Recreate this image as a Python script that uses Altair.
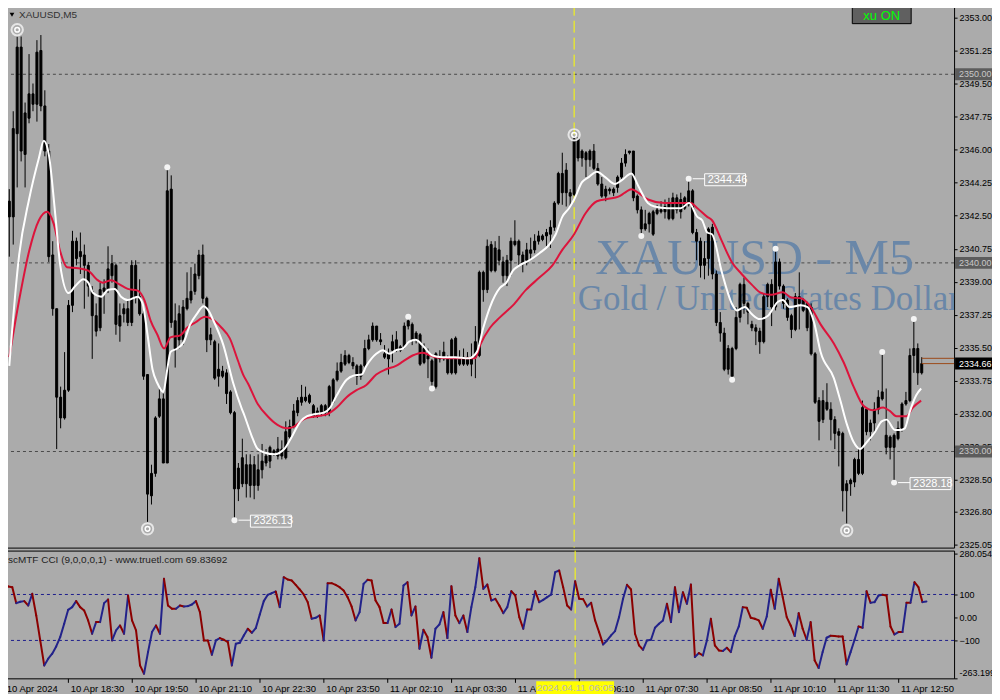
import altair as alt
import pandas as pd

# ---------------- data ----------------
opens = [2343.27,2342.44,2346.85,2351.44,2345.75,2347.67,2348.96,2348.41,2351.26,2348.32,
2345.93,2340.42,2337.57,2332.88,2331.78,2333.25,2337.75,2341.15,2340.33,2340.42,
2339.87,2338.49,2337.20,2336.56,2338.49,2338.58,2339.32,2339.87,2336.65,2337.30,
2337.57,2336.84,2339.87,2338.21,2337.30,2334.08,2327.65,2328.84,2331.87,2332.79,
2329.39,2343.91,2336.93,2335.92,2335.92,2337.57,2338.03,2338.49,2339.32,2340.42,
2338.12,2335.92,2335.82,2333.99,2334.26,2334.17,2333.16,2332.06,2328.02,2328.29,
2329.30,2328.20,2329.30,2328.20,2329.03,2329.39,2329.49,2330.04,2329.76,2330.13,
2329.67,2330.77,2331.32,2332.06,2332.61,2332.88,2332.61,2332.43,2331.87,2332.06,
2332.43,2332.06,2332.61,2333.80,2334.26,2334.63,2335.09,2334.72,2334.54,2333.99,
2334.54,2335.46,2335.92,2336.65,2335.92,2335.18,2334.91,2335.37,2335.92,2335.37,
2335.55,2336.65,2336.74,2335.92,2336.19,2334.72,2335.09,2334.81,2333.44,2335.00,
2334.91,2334.91,2334.17,2336.01,2334.63,2335.00,2334.63,2334.63,2335.00,2335.09,
2339.50,2338.58,2340.97,2339.59,2340.69,2340.05,2339.32,2340.14,2341.15,2341.15,
2340.42,2340.14,2340.51,2340.69,2341.15,2341.24,2341.43,2341.52,2341.89,2343.17,
2344.74,2343.72,2343.72,2343.63,2346.57,2345.56,2345.84,2345.47,2345.93,2345.01,
2344.18,2343.54,2343.91,2343.72,2344.00,2344.55,2345.29,2345.84,2345.93,2343.54,
2342.81,2341.80,2342.07,2342.71,2342.62,2342.71,2342.99,2342.35,2343.45,2342.81,
2343.36,2342.90,2343.08,2343.82,2341.61,2341.15,2339.87,2340.23,2341.89,2339.41,
2336.84,2336.28,2334.36,2335.46,2335.46,2337.11,2338.86,2337.85,2336.74,2336.56,
2336.38,2335.82,2338.21,2338.86,2337.66,2340.05,2338.77,2338.03,2337.20,2336.47,
2338.21,2338.03,2337.85,2337.66,2335.18,2332.70,2331.69,2332.61,2332.24,2331.69,
2331.05,2330.96,2327.92,2328.29,2328.38,2328.84,2328.84,2332.24,2331.05,2331.51,
2332.24,2332.79,2330.86,2330.22,2330.22,2330.68,2331.23,2332.52,2332.70,2335.09,
2335.46,2334.17]
highs = [2343.91,2348.04,2352.00,2352.00,2348.50,2351.07,2349.51,2351.81,2352.08,2349.15,
2346.30,2341.15,2337.57,2333.44,2335.27,2338.03,2341.70,2341.34,2341.61,2340.97,
2340.05,2338.77,2337.85,2338.95,2339.13,2340.88,2340.42,2339.96,2337.85,2337.85,
2338.03,2340.14,2340.14,2339.13,2337.48,2334.08,2329.30,2331.87,2333.34,2333.07,
2344.92,2344.64,2337.85,2337.75,2338.03,2339.50,2339.77,2339.96,2340.69,2340.97,
2338.21,2336.56,2335.92,2335.73,2334.54,2334.36,2333.25,2332.15,2329.39,2330.68,
2329.85,2329.85,2329.76,2329.85,2330.40,2330.13,2330.31,2330.13,2330.77,2330.59,
2331.60,2331.69,2332.52,2332.88,2333.53,2333.44,2333.07,2332.52,2332.33,2332.52,
2332.52,2333.53,2333.89,2334.72,2335.18,2335.37,2335.18,2335.00,2334.63,2334.63,
2335.92,2336.19,2336.84,2336.65,2336.28,2335.64,2335.46,2336.19,2336.38,2335.64,
2336.84,2337.20,2336.84,2336.38,2336.28,2335.73,2335.46,2334.91,2335.27,2335.37,
2335.82,2335.09,2336.01,2336.10,2335.37,2335.46,2335.27,2335.73,2336.65,2339.59,
2339.59,2341.24,2341.15,2341.15,2341.43,2340.33,2340.42,2341.34,2342.26,2341.24,
2340.60,2341.06,2341.34,2341.52,2341.70,2341.52,2341.80,2342.26,2343.27,2344.83,
2345.84,2345.29,2343.91,2346.70,2346.67,2346.02,2345.93,2346.02,2346.30,2345.29,
2344.55,2344.09,2344.00,2344.00,2344.64,2345.56,2346.02,2345.93,2345.93,2343.63,
2342.99,2342.81,2342.71,2342.81,2343.08,2343.27,2343.36,2343.45,2343.72,2343.63,
2343.72,2343.54,2344.46,2343.91,2341.80,2341.34,2341.15,2341.89,2342.07,2339.59,
2337.39,2336.56,2335.64,2335.55,2337.66,2338.95,2339.22,2337.94,2336.93,2336.74,
2336.56,2338.40,2338.95,2339.13,2340.69,2340.23,2338.86,2338.12,2337.30,2338.40,
2339.50,2338.12,2337.94,2337.85,2335.27,2332.88,2333.25,2333.62,2332.61,2331.87,
2331.23,2331.05,2328.48,2328.57,2329.67,2330.22,2332.70,2332.33,2331.69,2332.61,
2333.25,2335.27,2333.34,2330.86,2330.96,2331.60,2332.61,2333.16,2335.46,2337.03,
2335.73,2335.00]
lows = [2340.33,2340.97,2344.00,2345.38,2344.00,2347.40,2348.04,2347.49,2348.04,2345.65,
2340.05,2337.20,2330.13,2331.23,2331.69,2333.16,2337.39,2339.87,2339.41,2337.57,
2338.21,2334.91,2336.10,2336.38,2337.30,2338.40,2338.95,2336.19,2335.82,2336.84,
2336.65,2336.65,2337.85,2337.20,2333.80,2326.27,2327.19,2328.66,2331.78,2329.39,
2329.39,2336.56,2334.45,2335.46,2335.64,2337.48,2337.85,2338.31,2339.13,2337.85,
2335.27,2335.64,2333.80,2333.44,2333.89,2332.52,2331.97,2326.30,2327.37,2328.11,
2327.56,2327.56,2327.47,2327.92,2328.57,2329.21,2329.12,2329.76,2329.58,2329.58,
2329.58,2330.68,2331.23,2331.87,2332.43,2332.61,2332.52,2331.78,2331.78,2331.87,
2331.87,2331.87,2332.52,2333.71,2334.17,2334.54,2334.63,2334.36,2333.53,2333.80,
2334.45,2335.37,2335.82,2335.82,2335.64,2334.91,2334.08,2334.72,2335.27,2335.27,
2335.46,2336.47,2335.64,2335.73,2334.54,2334.63,2333.89,2333.44,2333.34,2334.72,
2334.81,2334.08,2334.08,2334.08,2334.54,2334.54,2334.54,2333.99,2333.89,2335.00,
2337.94,2338.40,2339.50,2339.50,2339.87,2338.95,2338.77,2339.32,2340.88,2339.87,
2339.50,2339.87,2340.14,2340.51,2340.97,2341.15,2340.88,2340.79,2341.70,2343.08,
2343.08,2342.99,2342.99,2343.54,2345.38,2345.10,2344.55,2345.10,2344.92,2344.09,
2343.45,2343.27,2343.63,2343.54,2343.72,2344.46,2345.10,2345.75,2343.27,2342.62,
2341.52,2341.70,2341.61,2341.43,2342.53,2342.62,2342.35,2342.26,2342.26,2342.62,
2342.35,2342.81,2342.99,2341.52,2340.14,2339.22,2339.13,2339.32,2339.13,2336.65,
2335.82,2334.26,2334.08,2333.89,2335.37,2336.84,2337.30,2336.74,2336.38,2335.64,
2335.18,2335.73,2337.66,2336.65,2337.48,2338.58,2337.57,2336.93,2336.01,2336.38,
2336.47,2337.39,2336.38,2335.09,2332.52,2330.59,2331.51,2332.15,2330.59,2330.13,
2329.21,2326.82,2326.18,2327.65,2328.11,2328.75,2328.75,2330.86,2330.59,2330.96,
2331.97,2332.70,2329.85,2329.58,2328.30,2330.59,2331.05,2332.43,2332.61,2334.17,
2333.53,2334.08]
closes = [2342.44,2347.12,2351.44,2345.93,2347.95,2348.96,2348.41,2351.17,2348.32,2345.93,
2340.33,2337.57,2332.88,2331.78,2333.25,2337.75,2341.15,2340.23,2340.60,2339.87,
2338.77,2337.20,2336.38,2338.58,2338.67,2339.68,2339.96,2336.74,2337.20,2337.57,
2336.84,2339.87,2338.21,2337.30,2333.99,2327.74,2328.84,2331.78,2332.79,2329.39,
2343.82,2336.84,2335.46,2337.30,2337.66,2338.12,2338.49,2339.41,2340.42,2338.12,
2335.92,2336.19,2333.89,2334.36,2333.99,2333.07,2332.06,2328.02,2329.12,2329.67,
2328.29,2329.30,2328.20,2329.03,2329.49,2329.76,2330.22,2329.85,2330.13,2329.76,
2331.05,2331.32,2332.15,2332.70,2332.88,2332.70,2332.98,2331.87,2332.15,2332.43,
2332.06,2333.44,2333.80,2334.26,2334.72,2335.09,2334.72,2334.54,2333.99,2334.54,
2335.46,2335.92,2336.65,2335.92,2335.82,2335.00,2335.18,2335.82,2335.37,2335.55,
2336.65,2336.93,2335.92,2336.28,2334.63,2335.46,2334.91,2333.71,2335.18,2334.91,
2335.27,2334.17,2335.92,2334.17,2335.00,2334.63,2335.00,2335.00,2335.82,2339.50,
2338.58,2340.88,2339.59,2340.79,2340.14,2339.32,2340.14,2341.15,2340.97,2340.42,
2339.96,2340.69,2340.69,2341.15,2341.43,2341.43,2341.61,2341.89,2343.17,2344.74,
2343.72,2344.92,2343.54,2346.57,2345.56,2345.93,2345.47,2345.93,2345.01,2344.18,
2343.54,2343.91,2343.82,2343.91,2344.55,2345.29,2345.75,2345.93,2343.45,2342.81,
2341.80,2342.07,2342.62,2341.52,2342.81,2342.81,2342.71,2343.17,2342.35,2343.45,
2342.71,2343.45,2343.82,2341.61,2341.15,2339.87,2340.23,2341.80,2339.41,2336.84,
2336.28,2334.36,2335.46,2333.99,2337.11,2338.86,2337.85,2337.39,2336.56,2336.38,
2335.82,2338.21,2338.86,2337.66,2340.05,2338.77,2337.85,2337.11,2336.47,2338.21,
2337.85,2337.48,2336.56,2335.18,2332.61,2331.60,2332.70,2332.24,2331.69,2330.96,
2330.86,2327.92,2328.29,2328.48,2329.58,2329.58,2332.33,2331.05,2331.51,2332.24,
2332.88,2333.16,2330.22,2330.77,2330.86,2331.23,2332.52,2332.70,2335.09,2335.46,
2334.17,2334.66]

fast_ma_bar = [0.0,2.5,5.0,7.5,8.75,10.0,11.7,12.9,15.0,16.7,18.75,20.0,21.25,23.3,25.0,26.7,28.3,30.0,
32.5,33.75,35.0,36.25,37.5,39.0,40.0,40.8,42.5,44.2,45.8,47.5,49.2,50.4,51.7,54.2,56.7,58.75,
59.6,61.3,62.9,64.6,67.1,69.6,71.25,73.75,75.4,77.1,79.6,81.25,82.9,85.4,87.1,89.2,90.4,92.9,
94.6,96.25,97.9,99.6,101.25,102.9,104.6,107.1,109.6,112.9,116.25,118.35,120.0,121.7,124.2,
125.85,127.5,129.2,131.7,134.2,136.7,138.35,140.0,141.7,143.0,145.0,146.7,148.75,150.85,
153.35,155.0,157.5,159.2,161.7,163.35,166.7,170.0,172.1,174.2,175.4,176.7,177.9,180.4,182.9,
184.2,186.25,187.9,190.0,192.1,194.6,195.85,197.5,200.4,202.1,203.75,205.4,208.75,210.4,
212.1,213.75,215.4,217.1,219.2,220.85,222.1,224.2,225.4,226.7,227.9,229.6,230.85]
fast_ma_val = [2334.54,2340.42,2343.36,2345.56,2346.48,2345.75,2342.44,2339.87,2338.40,2338.77,
2339.13,2338.95,2338.40,2338.21,2338.58,2338.62,2338.21,2338.03,2338.21,2337.85,2336.19,
2334.36,2333.62,2333.16,2334.36,2335.27,2335.46,2335.82,2336.74,2337.30,2337.70,2337.48,
2336.93,2335.64,2333.62,2332.33,2331.87,2330.86,2330.13,2329.95,2329.85,2330.13,2330.68,
2331.60,2331.87,2331.97,2332.06,2332.33,2332.98,2333.80,2334.02,2334.08,2334.54,2335.18,
2335.37,2335.18,2335.37,2335.46,2335.82,2335.92,2335.64,2335.09,2335.00,2335.00,2334.94,
2335.27,2336.56,2337.66,2338.67,2338.95,2339.59,2339.87,2340.14,2340.51,2340.97,2341.52,
2342.44,2342.90,2343.36,2344.28,2344.55,2344.83,2344.55,2344.18,2344.37,2344.74,2344.09,
2343.17,2342.99,2342.90,2342.90,2343.17,2342.44,2342.26,2341.61,2341.52,2339.50,2337.85,
2337.48,2337.66,2337.30,2337.02,2337.20,2337.94,2338.03,2337.66,2337.75,2337.66,2336.84,
2335.27,2333.89,2332.70,2331.41,2330.50,2330.13,2330.50,2331.05,2331.60,2331.69,2331.14,
2331.14,2331.23,2332.06,2332.98,2333.34]

slow_ma_bar = [0.0,2.5,5.0,7.5,9.6,11.25,12.9,14.6,17.5,20.0,22.1,23.75,25.8,27.9,30.0,32.5,34.2,
35.8,37.5,39.2,40.8,43.3,45.0,47.1,49.6,51.7,53.75,55.8,57.9,59.2,60.4,62.9,65.4,67.9,70.4,
72.1,73.75,75.4,77.9,80.4,82.9,85.4,87.9,90.4,92.9,95.4,97.9,99.6,102.1,104.6,106.25,107.9,
111.25,117.9,119.2,121.7,124.2,127.5,130.85,134.2,137.5,140.0,143.0,145.85,148.75,151.7,
154.2,155.85,157.5,159.2,161.7,165.85,170.0,172.5,174.2,176.7,177.9,180.4,182.9,185.4,
187.9,190.4,192.9,195.85,197.9,200.4,202.9,205.4,208.75,211.25,213.75,216.25,218.75,
221.25,222.9,224.6,227.1,228.75,230.85]
slow_ma_val = [2335.00,2338.03,2340.60,2342.26,2342.71,2342.07,2340.60,2339.77,2339.72,2339.59,
2339.13,2338.95,2339.08,2338.86,2338.62,2338.53,2338.03,2336.93,2336.19,2335.46,2336.05,
2336.16,2336.56,2336.84,2337.15,2336.97,2336.56,2336.01,2334.81,2334.08,2333.62,2332.52,
2331.87,2331.41,2331.23,2331.32,2331.60,2331.78,2331.87,2331.97,2332.33,2332.88,2333.25,
2333.53,2334.08,2334.36,2334.54,2334.76,2335.09,2335.24,2335.13,2335.00,2334.94,2334.94,
2335.64,2336.56,2337.11,2337.75,2338.58,2339.22,2339.87,2340.69,2341.52,2342.62,2343.27,
2343.40,2343.51,2343.72,2343.91,2343.72,2343.36,2343.17,2343.17,2343.17,2342.90,2342.44,
2342.26,2341.15,2340.05,2339.41,2338.86,2338.40,2338.31,2338.44,2338.17,2338.12,2337.66,
2336.74,2335.73,2334.72,2333.44,2332.43,2332.19,2332.33,2332.15,2331.87,2331.87,2332.33,
2332.70]

cci = [136.2,134.8,131.9,62.3,68.1,71.0,52.2,102.9,8.7,-100.0,
-208.7,-179.7,-157.9,-126.1,-85.5,-27.5,33.3,44.9,71.0,44.9,
30.4,-13.0,-71.0,-20.3,-20.3,62.3,78.2,-100.0,-56.5,-34.8,
-71.0,95.6,-13.0,-56.5,-208.7,-244.9,-150.7,-63.8,-34.8,-71.0,
168.1,52.2,37.7,37.7,52.2,47.8,49.3,56.5,71.0,23.2,
-100.0,-100.0,-162.3,-100.0,-89.8,-97.1,-107.2,-208.7,-114.5,-110.1,
-78.2,-49.3,-66.7,-46.4,13.0,71.0,98.5,105.8,113.0,44.9,
175.3,165.2,160.8,142.0,121.7,100.0,66.7,-5.8,-1.4,8.7,
-100.0,149.2,149.2,142.0,131.9,117.4,88.4,47.8,-13.0,23.2,
146.3,163.7,160.8,73.9,44.9,-24.6,-24.6,34.8,-42.0,-27.5,
139.1,153.6,8.7,47.8,-136.2,-53.6,-85.5,-175.3,-49.3,-30.4,
23.2,-89.8,136.2,8.7,-24.6,8.7,-63.8,44.9,131.9,257.9,
124.6,143.5,73.9,81.1,52.2,18.8,44.9,114.5,95.6,1.4,
-49.3,34.8,34.8,114.5,66.7,76.8,88.4,100.0,197.1,204.3,
131.9,52.2,34.8,157.9,81.1,79.7,47.8,63.8,-13.0,-63.8,
-117.4,-100.0,-78.2,-59.4,1.4,81.1,142.0,121.7,-71.0,-121.7,
-140.6,-100.0,-97.1,-44.9,-27.5,-13.0,59.4,-20.3,131.9,23.2,
110.1,59.4,143.5,-172.4,-155.0,-165.2,-100.0,-5.8,-121.7,-143.5,
-146.3,-131.9,-150.7,-81.1,-39.1,44.9,42.0,-1.4,-5.8,-13.0,
-49.3,4.3,120.3,37.7,168.1,88.4,1.4,-34.8,-81.1,18.8,
-49.3,-97.1,-20.3,-186.9,-220.2,-150.7,-88.4,-79.7,-81.1,-82.6,
-82.6,-204.3,-150.7,-97.1,-39.1,-44.9,114.5,63.8,66.7,95.6,
98.5,95.6,-39.1,-73.9,-63.8,-63.8,63.8,63.8,153.6,131.9,
66.7,69.84]

swing_dot_bar = [40, 57, 101, 107, 160, 172, 183, 194, 221, 224, 229]
swing_dot_price = [2345.07, 2326.36, 2337.15, 2333.34, 2341.43, 2344.46, 2333.80, 2340.75, 2335.27, 2328.35, 2337.02]
ring_bar = [2, 35, 143, 212]
ring_price = [2352.36, 2325.90, 2346.79, 2325.81]
tag_bar = [57, 172, 224]
tag_price = [2326.36, 2344.46, 2328.35]
tag_text = ["2326.13", "2344.46", "2328.18"]

price_ticks = [2353.00, 2351.25, 2349.50, 2347.75, 2346.00, 2344.25, 2342.50, 2340.75, 2339.00,
               2337.25, 2335.50, 2333.75, 2332.00, 2330.25, 2328.50, 2326.80, 2325.05]
round_levels = [2350.00, 2340.00, 2330.00]
bid_price = 2334.66
ask_price = 2334.94
cci_levels = [100, -100]
cci_ticks = [280.05425, 100, 0, -100, -263.1995]
time_tick_bars = [0, 16, 32, 48, 64, 80, 96, 112, 128, 144, 160, 176, 192, 208, 224]
time_tick_labels = ["10 Apr 2024", "10 Apr 18:30", "10 Apr 19:50", "10 Apr 21:10", "10 Apr 22:30",
                    "10 Apr 23:50", "11 Apr 02:10", "11 Apr 03:30", "11 Apr 04:50", "11 Apr 06:10",
                    "11 Apr 07:30", "11 Apr 08:50", "11 Apr 10:10", "11 Apr 11:30", "11 Apr 12:50"]
cursor_bar = 143
cursor_text = "2024.04.11 06:05"

# ---------------- layout ----------------
W = 953
H_MAIN = 545
H_CCI = 128
FONT = "Liberation Sans"
FS = 9

xscale = alt.Scale(domain=[-0.325, 237.925], nice=False, zero=False)
yscale = alt.Scale(domain=[2324.905, 2353.741], nice=False, zero=False)
cscale = alt.Scale(domain=[-265, 291], nice=False, zero=False)

yaxis = alt.Axis(orient="right", values=price_ticks, format=".2f", title=None, grid=False,
                 domain=False, ticks=True, tickSize=3, tickColor="black", labelColor="black",
                 labelFont=FONT, labelFontSize=FS, labelPadding=2, labelFlush=False, labelOverlap=False)

def X(f="bar"):
    return alt.X(f + ":Q", scale=xscale, axis=None)

def Y(f):
    return alt.Y(f + ":Q", scale=yscale, axis=yaxis)

n = len(closes)
candles = pd.DataFrame({
    "bar": list(range(n)),
    "open": opens, "high": highs, "low": lows, "close": closes,
})
candles["top"] = candles[["open", "close"]].max(axis=1)
candles["bot"] = candles[["open", "close"]].min(axis=1)

fast = pd.DataFrame({"bar": fast_ma_bar, "p": fast_ma_val})
slow = pd.DataFrame({"bar": slow_ma_bar, "p": slow_ma_val})
levels = pd.DataFrame({"p": round_levels})
dots = pd.DataFrame({"bar": swing_dot_bar, "p": swing_dot_price})
rings = pd.DataFrame({"bar": ring_bar, "p": ring_price})
tags = pd.DataFrame({"bar": tag_bar, "bar2": tag_bar, "p": tag_price, "p2": tag_price, "t": tag_text})
cursor = pd.DataFrame({"bar": [cursor_bar]})

grid = alt.Chart(levels).mark_rule(color="#4a4a4a", strokeDash=[3, 3], strokeWidth=1).encode(y=Y("p"))

wm1 = alt.Chart(pd.DataFrame({"t": ["XAUUSD - M5"]})).mark_text(
    font="Liberation Serif", fontSize=50, color="#6a87a8", align="center", baseline="middle", clip=True
).encode(text="t:N", x=alt.value(753), y=alt.value(256))
wm2 = alt.Chart(pd.DataFrame({"t": ["Gold / United States Dollar"]})).mark_text(
    font="Liberation Serif", fontSize=35, color="#6a87a8", align="left", baseline="middle", clip=True
).encode(text="t:N", x=alt.value(576), y=alt.value(296))

vline = alt.Chart(cursor).mark_rule(color="#ffff00", strokeDash=[12, 5], strokeWidth=1).encode(x=X())

wicks = alt.Chart(candles).mark_rule(color="black", strokeWidth=1).encode(
    x=X(), y=Y("low"), y2="high:Q")
bodies = alt.Chart(candles).mark_bar(width=2, color="black", stroke="black", strokeWidth=1).encode(
    x=X(), y=Y("bot"), y2="top:Q")

slow_line = alt.Chart(slow).mark_line(color="#dc143c", strokeWidth=2, interpolate="monotone").encode(
    x=X(), y=Y("p"))
fast_line = alt.Chart(fast).mark_line(color="white", strokeWidth=2, interpolate="monotone").encode(
    x=X(), y=Y("p"))

dot_layer = alt.Chart(dots).mark_point(filled=True, color="#f4f4f4", size=36, opacity=1).encode(
    x=X(), y=Y("p"))
ring_outer = alt.Chart(rings).mark_point(filled=False, color="#e6e6e6", size=130, strokeWidth=2, opacity=1).encode(
    x=X(), y=Y("p"))
ring_inner = alt.Chart(rings).mark_point(filled=False, color="white", size=22, strokeWidth=1.5, opacity=1).encode(
    x=X(), y=Y("p"))

tag_line = alt.Chart(tags).mark_rule(color="white", strokeWidth=1, xOffset=4, x2Offset=16).encode(
    x=X(), x2="bar2:Q", y=Y("p"))
tag_box = alt.Chart(tags).mark_rect(fillOpacity=0, stroke="white", strokeWidth=1, xOffset=16, x2Offset=57,
                                    yOffset=-5, y2Offset=7, clip=True).encode(
    x=X(), x2="bar2:Q", y=Y("p"), y2="p2:Q")
tag_text_l = alt.Chart(tags).mark_text(color="white", align="left", baseline="middle", dx=19, dy=1,
                                       font=FONT, fontSize=11, clip=True).encode(
    x=X(), y=Y("p"), text="t:N")

bidask = pd.DataFrame({"bar": [n - 1, n - 1], "p": [ask_price, bid_price]})
bidask_l = alt.Chart(bidask).mark_rule(color="#9c4a1a", strokeWidth=1).encode(
    x=X(), x2=alt.value(W), y=Y("p"))

lvl_box = alt.Chart(levels).mark_rect(color="#5c5c5c", yOffset=-6, y2Offset=6).encode(
    x=alt.value(W + 1), x2=alt.value(W + 42), y=Y("p"), y2="p:Q")
lvl_txt = alt.Chart(levels).mark_text(color="#c8c8c8", align="left", baseline="middle", font=FONT,
                                      fontSize=FS).encode(
    x=alt.value(W + 5), y=Y("p"), text=alt.Text("p:Q", format=".2f"))

cur = pd.DataFrame({"p": [bid_price]})
cur_box = alt.Chart(cur).mark_rect(color="black", yOffset=-6, y2Offset=6).encode(
    x=alt.value(W + 1), x2=alt.value(W + 42), y=Y("p"), y2="p:Q")
cur_txt = alt.Chart(cur).mark_text(color="white", align="left", baseline="middle", font=FONT, fontSize=FS).encode(
    x=alt.value(W + 5), y=Y("p"), text=alt.Text("p:Q", format=".2f"))

btn_box = alt.Chart(pd.DataFrame({"a": [1]})).mark_rect(color="#606060", stroke="black", strokeWidth=1).encode(
    x=alt.value(851), x2=alt.value(910), y=alt.value(2), y2=alt.value(20))
btn_txt = alt.Chart(pd.DataFrame({"t": ["xu ON"]})).mark_text(color="#00ff00", font=FONT, fontSize=13,
                                                              align="center", baseline="middle").encode(
    x=alt.value(880.5), y=alt.value(12), text="t:N")

title_tri = alt.Chart(pd.DataFrame({"a": [1]})).mark_point(shape="triangle-down", filled=True, color="black",
                                                           size=22, opacity=1).encode(
    x=alt.value(9), y=alt.value(11))
title_txt = alt.Chart(pd.DataFrame({"t": ["XAUUSD,M5"]})).mark_text(color="#333333", font=FONT, fontSize=10,
                                                                    align="left", baseline="middle").encode(
    x=alt.value(16), y=alt.value(11), text="t:N")

main = alt.layer(
    grid, wm1, wm2, vline, wicks, bodies, slow_line, fast_line, ring_outer, ring_inner, dot_layer,
    tag_line, tag_box, tag_text_l, bidask_l, lvl_box, lvl_txt, cur_box, cur_txt, btn_box, btn_txt,
    title_tri, title_txt
).properties(width=W, height=H_MAIN)

# ---------------- CCI panel ----------------
label_js = "[" + ",".join("'%s'" % s for s in time_tick_labels) + "][round(datum.value/16)]"
xaxis = alt.Axis(values=time_tick_bars, labelExpr=label_js, title=None, grid=False, domain=False,
                 tickSize=4, tickColor="black", labelColor="black", labelFont=FONT, labelFontSize=9.5,
                 labelAlign="left", labelOffset=2, labelPadding=1, labelFlush=False, labelOverlap=False,
                 labelBaseline="top")
caxis = alt.Axis(orient="right", values=cci_ticks, title=None, grid=False, domain=False, tickSize=3,
                 tickColor="black", labelColor="black", labelFont=FONT, labelFontSize=FS, labelPadding=2,
                 labelFlush=True, labelOverlap=False,
                 labelExpr="datum.value > 200 ? '280.05425' : (datum.value < -200 ? '-263.1995' : (datum.value == 0 ? '0.00' : format(datum.value, 'd')))")

def CX(f="bar"):
    return alt.X(f + ":Q", scale=xscale, axis=xaxis)

def CY(f):
    return alt.Y(f + ":Q", scale=cscale, axis=caxis)

seg = pd.DataFrame({
    "bar": list(range(n - 1)),
    "bar2": list(range(1, n)),
    "v": cci[:-1],
    "v2": cci[1:],
})
seg["dir"] = ["up" if b > a else "down" for a, b in zip(cci[:-1], cci[1:])]

clev = alt.Chart(pd.DataFrame({"v": cci_levels})).mark_rule(color="#1c1c8c", strokeDash=[3, 3]).encode(y=CY("v"))
cvline = alt.Chart(cursor).mark_rule(color="#ffff00", strokeDash=[12, 5], strokeWidth=1).encode(x=CX())
csegs = alt.Chart(seg).mark_rule(strokeWidth=2, strokeCap="round").encode(
    x=CX(), x2="bar2:Q", y=CY("v"), y2="v2:Q",
    color=alt.Color("dir:N", scale=alt.Scale(domain=["up", "down"], range=["#22228a", "#8b0000"]), legend=None))
ctitle = alt.Chart(pd.DataFrame({"t": ["scMTF CCI (9,0,0,0,1) - www.truetl.com 69.83692"]})).mark_text(
    color="#222222", font=FONT, fontSize=10, align="left", baseline="middle").encode(
    x=alt.value(5), y=alt.value(9), text="t:N")
date_box = alt.Chart(cursor).mark_rect(color="#ffff00", xOffset=-39, x2Offset=39).encode(
    x=CX(), x2="bar:Q", y=alt.value(H_CCI + 3), y2=alt.value(H_CCI + 16))
date_txt = alt.Chart(pd.DataFrame({"bar": [cursor_bar], "t": [cursor_text]})).mark_text(
    color="#b8b8b8", font=FONT, fontSize=10, align="center", baseline="middle").encode(
    x=CX(), y=alt.value(H_CCI + 9.5), text="t:N")

cci_chart = alt.layer(clev, cvline, csegs, ctitle, date_box, date_txt).properties(width=W, height=H_CCI)

chart = alt.vconcat(main, cci_chart, spacing=-2).properties(
    background="#ababab", padding={"left": -6, "top": -6, "right": -11, "bottom": -2}
).configure_view(stroke="black", strokeWidth=1).configure_concat(spacing=-2)

chart.save("out.html", embed_options={"renderer": "svg", "actions": False})
